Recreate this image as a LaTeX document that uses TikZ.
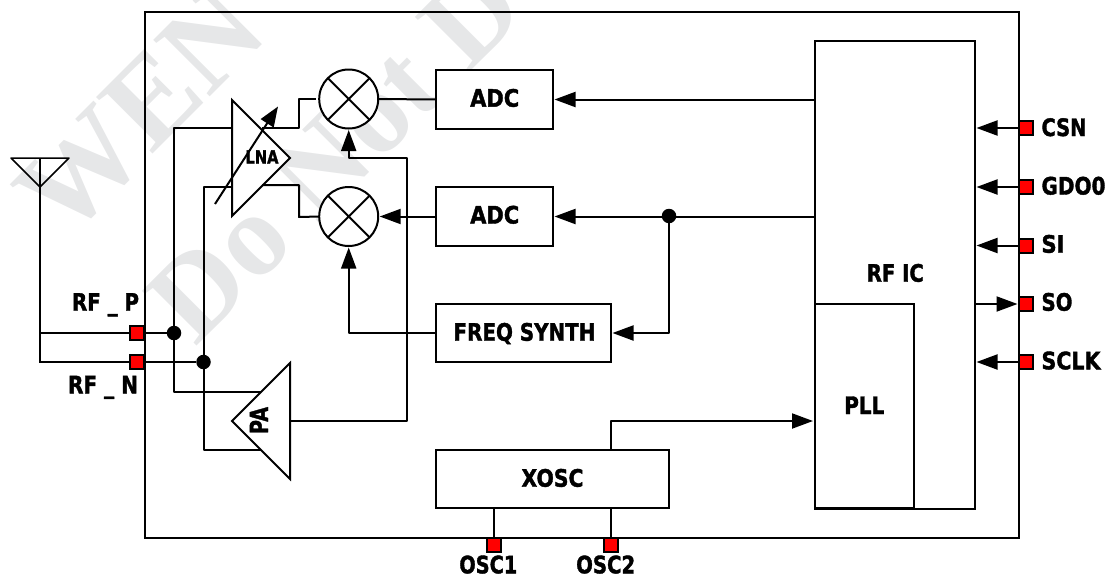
\documentclass[tikz,border=0pt]{standalone}
\usepackage{graphicx}
\usepackage{fontspec}
\setmainfont{DejaVu Sans}[BoldFont={DejaVu Sans Bold},BoldFeatures={FakeBold=1.7}]
\newfontfamily\wmfont{Liberation Serif Bold}
\usetikzlibrary{arrows.meta,shapes.geometric}
\definecolor{wmgray}{HTML}{E6E7E8}
\newcommand\fitw[2]{\resizebox{#1pt}{\height}{#2}}
\tikzset{
  wire/.style={line width=2pt,line join=round},
  thin wire/.style={line width=1.5pt},
  arrowed/.style={wire,-{Triangle[length=21pt,width=15pt]},shorten >=1.5pt},
  blockbox/.style={draw=black,line width=2pt,fill=white,rectangle,inner sep=0pt,outer sep=0pt,anchor=north west},
  mixer/.style={draw=black,line width=2pt,fill=white,circle,inner sep=0pt,outer sep=0pt,minimum size=59pt},
  amp/.style={draw=black,line width=2pt,fill=white,isosceles triangle,isosceles triangle apex angle=90,minimum height=58pt,inner sep=0pt,outer sep=0pt,anchor=apex},
  pad/.style={draw=black,line width=2pt,fill=red,rectangle,inner sep=0pt,outer sep=0pt,minimum size=14pt},
  junction/.style={fill=black,circle,inner sep=0pt,outer sep=0pt,minimum size=14.5pt},
  lbl/.style={font=\fontsize{24}{26}\selectfont\bfseries,inner sep=0pt,outer sep=0pt,anchor=base},
  lblw/.style={lbl,anchor=base west},
  wm/.style={text=wmgray,inner sep=0pt,outer sep=0pt,anchor=base west,rotate=45}
}
\begin{document}
\begin{tikzpicture}[x=1pt,y=-1pt]
\useasboundingbox (0,0) rectangle (1111,576);
% watermark
\node[wm,font=\wmfont\fontsize{122}{122}\selectfont] (wmA) at (65,242) {WEN};
\node[wm,font=\wmfont\fontsize{118}{118}\selectfont] (wmB) at (195,347) {Do Not D};
% outer
\node[blockbox,fill=none,minimum width=874pt,minimum height=525.5pt] (chip) at (145,12) {};
% blocks
\node[blockbox,minimum width=160.5pt,minimum height=467.5pt] (rfic) at (814.5,41) {};
\node[blockbox,minimum width=99.5pt,minimum height=204pt] (pll) at (814.5,304) {};
\node[blockbox,minimum width=117pt,minimum height=59pt] (adcA) at (436,70) {};
\node[blockbox,minimum width=117pt,minimum height=59pt] (adcB) at (436,187) {};
\node[blockbox,minimum width=175pt,minimum height=58pt] (synth) at (436,304) {};
\node[blockbox,minimum width=233pt,minimum height=58pt] (xosc) at (436,450) {};
\node[mixer] (mixA) at (348.7,99) {};
\node[mixer] (mixB) at (348.7,216.5) {};
\draw[wire] (mixA.north west) -- (mixA.south east) (mixA.north east) -- (mixA.south west);
\draw[wire] (mixB.north west) -- (mixB.south east) (mixB.north east) -- (mixB.south west);
\node[amp] (lna) at (290,158) {};
\node[amp,shape border rotate=180] (pa) at (232,421) {};
% pads
\node[pad] (csn) at (1026,128) {};
\node[pad] (gdo) at (1026,187) {};
\node[pad] (si) at (1026,245.5) {};
\node[pad] (so) at (1026,304) {};
\node[pad] (sclk) at (1026,362) {};
\node[pad] (rfp) at (137,333) {};
\node[pad] (rfn) at (137,362) {};
\node[pad] (oscA) at (494.3,545) {};
\node[pad] (oscB) at (611,545) {};
% junctions
\node[junction] (jP) at (174,333) {};
\node[junction] (jN) at (203.5,362) {};
\node[junction] (jS) at (669,216) {};
% helper points
\coordinate (lnaInA) at (232,128);
\coordinate (lnaInB) at (232,187);
\coordinate (lnaOutA) at (262,128);
\coordinate (lnaOutB) at (262,185);
\coordinate (paInA) at (261,392);
\coordinate (paInB) at (261,450);
\coordinate (paOut) at (290,421);
\coordinate (gainS) at (215,204);
\coordinate (gainE) at (278,106.5);
\coordinate (antTop) at (40,158);
\coordinate (antL) at (11,158);
\coordinate (antR) at (69,158);
\coordinate (antB) at (40,187);
% wires
\draw[wire] (lnaInA) -| (jP) (jP) |- (paInA);
\draw[wire] (lnaInB) -| (jN) (jN) |- (paInB);
\draw[wire] (rfp) -- (jP);
\draw[wire] (rfn) -- (jN);
\draw[wire] (lnaOutA) -- (299,128) -- (299,99) -- (316,99);
\draw[wire] (lnaOutB) -- (299,185) -- (299,217) -- (mixB.west);
\draw[wire] (mixA.east) -- (adcA.west);
\draw[arrowed] (paOut) -- (407,421) -- (407,158) -- (348.7,158) -- (mixA.south);
\draw[arrowed] (adcB.west) -- (mixB.east);
\draw[arrowed] (synth.west) -- (348.7,333) -- (mixB.south);
\draw[arrowed] (rfic.west |- adcA.east) -- (adcA.east);
\draw[arrowed] (rfic.west |- adcB.east) -- (adcB.east);
\draw[arrowed] (jS) |- (synth.east);
\draw[arrowed] (xosc.north -| synth.east) |- (pll.west |- 0,421);
\draw[wire] (xosc.south -| oscA) -- (oscA.north);
\draw[wire] (xosc.south -| oscB) -- (oscB.north);
\draw[arrowed] (csn.west) -- (rfic.east |- csn.west);
\draw[arrowed] (gdo.west) -- (rfic.east |- gdo.west);
\draw[arrowed] (si.west) -- (rfic.east |- si.west);
\draw[arrowed] (rfic.east |- so.west) -- (so.west);
\draw[arrowed] (sclk.west) -- (rfic.east |- sclk.west);
\draw[arrowed,-{Triangle[length=20pt,width=15pt]},shorten >=0pt] (gainS) -- (gainE);
% antenna
\draw[thin wire,line join=round] (antL) -- (antR) -- (antB) -- cycle;
\draw[thin wire] (antTop) -- (40,362) -- (rfn.west);
\draw[thin wire] (40,333) -- (rfp.west);
% labels
\node[lbl] (tAdcA) at (494.7,106.7) {\fitw{49}{ADC}};
\node[lbl] (tAdcB) at (494.7,223.5) {\fitw{49}{ADC}};
\node[lbl] (tSyn) at (524.5,340.7) {\fitw{142}{FREQ SYNTH}};
\node[lbl] (tXo) at (552.5,486.7) {\fitw{62}{XOSC}};
\node[lbl] (tO1) at (488.3,573.3) {\fitw{58}{OSC1}};
\node[lbl] (tO2) at (605.7,573.3) {\fitw{59}{OSC2}};
\node[lbl] (tRf) at (895.3,281.7) {\fitw{57}{RF IC}};
\node[lbl] (tPll) at (864.3,414) {\fitw{40}{PLL}};
\node[lblw] (tCsn) at (1041.5,136) {\fitw{45}{CSN}};
\node[lblw] (tGdo) at (1041.5,194.5) {\fitw{64}{GDO0}};
\node[lblw] (tSi) at (1041.5,252.7) {\fitw{23}{SI}};
\node[lblw] (tSo) at (1041.5,310.7) {\fitw{31}{SO}};
\node[lblw] (tSclk) at (1041.5,369.3) {\fitw{59}{SCLK}};
\node[lblw] (tP) at (72,310.7) {\fitw{67}{RF \_ P}};
\node[lblw] (tN) at (68,393.3) {\fitw{70}{RF \_ N}};
\node[lbl,font=\fontsize{18}{20}\selectfont\bfseries] (tLna) at (262,163.5) {\fitw{33}{LNA}};
\node[lbl,rotate=90,font=\fontsize{25}{26}\selectfont\bfseries] (tPa) at (268,420.5) {\fitw{27}{PA}};
\end{tikzpicture}
\end{document}
